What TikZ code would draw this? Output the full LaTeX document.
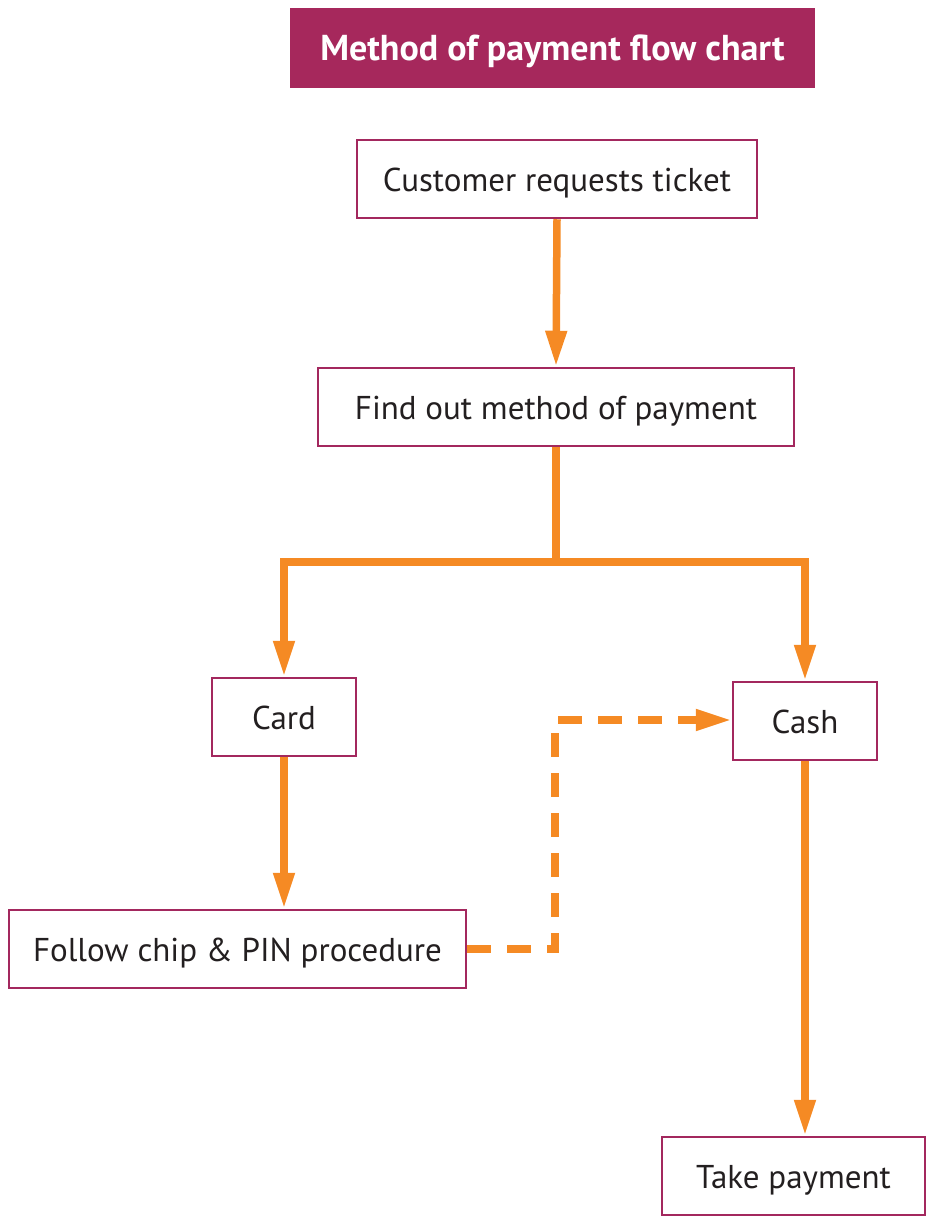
\documentclass[tikz,border=0pt]{standalone}
\usepackage{fontspec}
\setmainfont{PT Sans}
\usetikzlibrary{arrows.meta}
\definecolor{flowor}{HTML}{F58A24}
\definecolor{boxline}{HTML}{A3285E}
\definecolor{titlefill}{HTML}{A6285C}
\definecolor{inktext}{HTML}{231F20}
\tikzset{
  stepbox/.style={draw=boxline, line width=2.5pt, fill=white, minimum height=78pt,
    inner sep=0pt, text height=24pt, text depth=0pt, text=inktext,
    font=\fontsize{33}{38}\selectfont},
  titlebox/.style={fill=titlefill, minimum width=525pt, minimum height=80pt,
    inner sep=0pt, text height=25pt, text depth=0pt, text=white,
    font=\fontsize{36}{40}\selectfont\bfseries},
  flow/.style={draw=flowor, line width=7.5pt, line join=miter,
    -{Triangle[length=36pt,width=20pt]}},
  dashflow/.style={flow, dash pattern=on 24pt off 16pt}
}
\begin{document}
\begin{tikzpicture}[x=1pt,y=-1pt]
\useasboundingbox (0,0) rectangle (930,1225);
% title banner
\node[titlebox] (title) at (552.5,48) {Method of payment flow chart};
% process steps
\node[stepbox, minimum width=400pt] (cust) at (557,179) {Customer requests ticket};
\node[stepbox, minimum width=476pt] (find) at (556,407) {Find out method of payment};
\node[stepbox, minimum width=144pt] (card) at (284,717) {Card};
\node[stepbox, minimum width=144pt] (cash) at (805,721) {Cash};
\node[stepbox, minimum width=457pt] (follow) at (237.5,949) {Follow chip \& PIN procedure};
\node[stepbox, minimum width=263pt] (take) at (793.5,1176) {Take payment};
% branch point and dashed route corner
\coordinate (split) at (556,562);
\coordinate (corner) at (555,720);
% connectors
\draw[flow] (cust.south) -- (find.north);
\draw[flow] (find.south) -- (split) -| (card.north);
\draw[flow] (split) -| (cash.north);
\draw[flow] (card.south) -- (follow.north -| card.south);
\draw[flow] (cash.south) -- (take.north -| cash.south);
\draw[dashflow] (follow.east) -| (corner) -- (corner -| cash.west);
\end{tikzpicture}
\end{document}
